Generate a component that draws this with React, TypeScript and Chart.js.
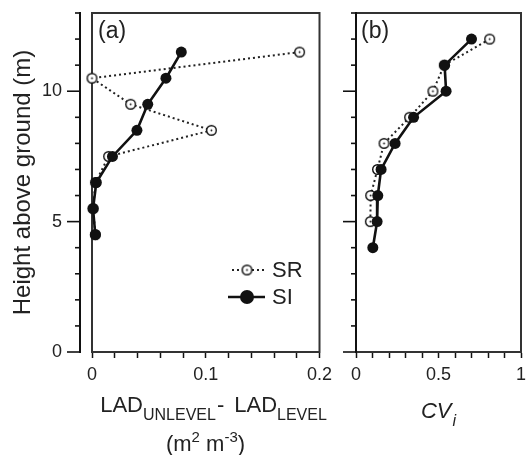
import React, { useEffect, useRef } from "react";
import { Chart, registerables } from "chart.js";
Chart.register(...registerables);

const FONT = '"Liberation Sans", Arial, Helvetica, sans-serif';

// Panel (a): LAD_UNLEVEL - LAD_LEVEL vs height
const heightsA = [11.5, 10.5, 9.5, 8.5, 7.5, 6.5, 5.5, 4.5];
const srLadDiff = [0.1825, 0.0, 0.034, 0.105, 0.0146, 0.003, 0.001, 0.003];
const siLadDiff = [0.0785, 0.065, 0.049, 0.0395, 0.018, 0.0038, 0.0009, 0.0029];

// Panel (b): CV_i vs height
const heightsB_SI = [12, 11, 10, 9, 8, 7, 6, 5, 4];
const siCv = [0.7, 0.537, 0.546, 0.349, 0.237, 0.152, 0.132, 0.128, 0.102];
const heightsB_SR = [12, 11, 10, 9, 8, 7, 6, 5];
const srCv = [0.81, 0.535, 0.466, 0.325, 0.17, 0.13, 0.089, 0.087];

// Axis ticks
const yMin = 0, yMax = 13, yStep = 1, yLabelEvery = 5;
const xA = { min: 0, max: 0.2, step: 0.02, labels: [0, 0.1, 0.2] };
const xB = { min: 0, max: 1, step: 0.1, labels: [0, 0.5, 1] };

const legendNames = ["SR", "SI"];

type Run = { t: string; size: number; dy?: number; italic?: boolean; gap?: number };

function drawRuns(ctx: CanvasRenderingContext2D, runs: Run[], cx: number, baseline: number) {
  ctx.save();
  ctx.fillStyle = "#222";
  ctx.textBaseline = "alphabetic";
  ctx.textAlign = "left";
  const fontOf = (r: Run) => `${r.italic ? "italic " : ""}${r.size}px ${FONT}`;
  let total = 0;
  const widths = runs.map((r) => {
    ctx.font = fontOf(r);
    const w = ctx.measureText(r.t).width + (r.gap || 0);
    total += w;
    return w;
  });
  let x = cx - total / 2;
  runs.forEach((r, i) => {
    ctx.font = fontOf(r);
    ctx.fillText(r.t, x, baseline + (r.dy || 0));
    x += widths[i];
  });
  ctx.restore();
}

function makeOpenCircle(): HTMLCanvasElement {
  const c = document.createElement("canvas");
  c.width = 13;
  c.height = 13;
  const g = c.getContext("2d")!;
  g.beginPath();
  g.arc(6.5, 6.5, 4.8, 0, Math.PI * 2);
  g.fillStyle = "#fff";
  g.fill();
  g.lineWidth = 1.4;
  g.strokeStyle = "#111";
  g.stroke();
  g.beginPath();
  g.arc(6.5, 6.5, 0.9, 0, Math.PI * 2);
  g.fillStyle = "#111";
  g.fill();
  return c;
}

function decorPlugin(cfg: {
  axisOffset: number;
  label: string;
  labelDx: number;
  legend: boolean;
  openCircle: HTMLCanvasElement;
  titles: (ctx: CanvasRenderingContext2D, a: any) => void;
}) {
  return {
    id: "decor",
    beforeDatasetsDraw(chart: any) {
      const { ctx, chartArea: a } = chart;
      ctx.save();
      ctx.strokeStyle = "#333";
      ctx.lineWidth = 2;
      ctx.strokeRect(a.left, a.top, a.right - a.left, a.bottom - a.top);
      ctx.restore();
    },
    afterDraw(chart: any) {
      const { ctx, chartArea: a, scales } = chart;
      const y = scales.y;
      const ax = a.left - cfg.axisOffset;
      ctx.save();
      ctx.strokeStyle = "#111";
      ctx.lineWidth = 2;
      ctx.beginPath();
      ctx.moveTo(ax, y.getPixelForValue(y.max) - 1);
      ctx.lineTo(ax, y.getPixelForValue(y.min) + 1);
      ctx.stroke();
      ctx.lineWidth = 1.6;
      y.ticks.forEach((t: any) => {
        const py = y.getPixelForValue(t.value);
        const len = Math.abs(t.value % yLabelEvery) < 1e-9 ? 13 : 5;
        ctx.beginPath();
        ctx.moveTo(ax, py);
        ctx.lineTo(ax - len, py);
        ctx.stroke();
      });
      // panel label
      ctx.fillStyle = "#222";
      ctx.font = `23px ${FONT}`;
      ctx.textBaseline = "middle";
      ctx.textAlign = "left";
      ctx.fillText(cfg.label, a.left + cfg.labelDx, a.top + 19);
      // legend
      if (cfg.legend) {
        const ds = chart.data.datasets;
        const cx = a.left + 155;
        const rows = [a.top + 257, a.top + 284];
        // SR row
        ctx.save();
        ctx.strokeStyle = ds[1].borderColor;
        ctx.lineWidth = ds[1].borderWidth;
        ctx.setLineDash(ds[1].borderDash);
        ctx.beginPath();
        ctx.moveTo(cx - 15, rows[0]);
        ctx.lineTo(cx + 17, rows[0]);
        ctx.stroke();
        ctx.restore();
        ctx.drawImage(cfg.openCircle, cx - 6.5, rows[0] - 6.5);
        // SI row
        ctx.strokeStyle = ds[0].borderColor;
        ctx.lineWidth = ds[0].borderWidth;
        ctx.beginPath();
        ctx.moveTo(cx - 19, rows[1]);
        ctx.lineTo(cx + 18, rows[1]);
        ctx.stroke();
        ctx.beginPath();
        ctx.arc(cx, rows[1], 7, 0, Math.PI * 2);
        ctx.fillStyle = ds[0].pointBackgroundColor;
        ctx.fill();
        ctx.fillStyle = "#222";
        ctx.font = `22px ${FONT}`;
        ctx.textBaseline = "middle";
        ctx.fillText(legendNames[0], cx + 25, rows[0] + 1);
        ctx.fillText(legendNames[1], cx + 25, rows[1] + 1);
      }
      ctx.restore();
      cfg.titles(ctx, a);
    },
  };
}

function xScale(r: { min: number; max: number; step: number; labels: number[] }) {
  return {
    type: "linear",
    min: r.min,
    max: r.max,
    afterFit: (s: any) => {
      s.height = 103;
      s.paddingLeft = 0;
      s.paddingRight = 0;
    },
    grid: { drawOnChartArea: false, drawTicks: true, tickLength: 6, tickWidth: 1.5, tickColor: "#111" },
    border: { display: true, color: "#111", width: 2 },
    ticks: {
      stepSize: r.step,
      autoSkip: false,
      maxRotation: 0,
      padding: 6,
      color: "#222",
      font: { family: FONT, size: 18 },
      callback: (v: any) => {
        const n = Number(v);
        return r.labels.some((l) => Math.abs(l - n) < 1e-9) ? String(+n.toFixed(2)) : "";
      },
    },
  };
}

function yScale(width: number, showLabels: boolean, title: boolean) {
  return {
    type: "linear",
    min: yMin,
    max: yMax,
    afterFit: (s: any) => {
      s.width = width;
      s.paddingTop = 0;
      s.paddingBottom = 0;
    },
    grid: { display: false, drawTicks: false, tickLength: 0 },
    border: { display: false },
    ticks: {
      stepSize: yStep,
      autoSkip: false,
      display: showLabels,
      padding: 30,
      color: "#222",
      font: { family: FONT, size: 18 },
      callback: (v: any) => (Math.abs(Number(v) % yLabelEvery) < 1e-9 ? String(v) : ""),
    },
    title: {
      display: title,
      text: "Height above ground (m)",
      color: "#222",
      font: { family: FONT, size: 24 },
      padding: { top: 8.5, bottom: 0 },
    },
  };
}

function datasets(srX: number[], srY: number[], siX: number[], siY: number[], oc: HTMLCanvasElement) {
  return [
    {
      label: legendNames[1],
      data: siX.map((x, i) => ({ x, y: siY[i] })),
      borderColor: "#111",
      borderWidth: 2.6,
      pointRadius: 5.5,
      pointBackgroundColor: "#111",
      pointBorderWidth: 0,
      tension: 0,
      clip: false,
      order: 0,
    },
    {
      label: legendNames[0],
      data: srX.map((x, i) => ({ x, y: srY[i] })),
      borderColor: "#222",
      borderWidth: 2,
      borderDash: [2, 3],
      pointStyle: oc,
      pointRadius: 5,
      tension: 0,
      clip: false,
      order: 1,
    },
  ];
}

export default function App() {
  const refA = useRef<HTMLCanvasElement>(null);
  const refB = useRef<HTMLCanvasElement>(null);

  useEffect(() => {
    const oc = makeOpenCircle();
    const chartA = new Chart(refA.current!, {
      type: "line",
      data: { datasets: datasets(srLadDiff, heightsA, siLadDiff, heightsA, oc) as any },
      options: {
        responsive: false,
        animation: false,
        layout: { padding: { top: 13, right: 20.5, left: 0, bottom: 0 } },
        plugins: { legend: { display: false }, tooltip: { enabled: false } },
        scales: { x: xScale(xA) as any, y: yScale(92, true, true) as any },
      },
      plugins: [
        decorPlugin({
          axisOffset: 12,
          label: "(a)",
          labelDx: 6,
          legend: true,
          openCircle: oc,
          titles: (ctx, a) => {
            const cx = a.left + 121.5;
            drawRuns(
              ctx,
              [
                { t: "LAD", size: 22 },
                { t: "UNLEVEL", size: 16, dy: 8.5, gap: 1 },
                { t: "-", size: 22, gap: 10 },
                { t: "LAD", size: 22 },
                { t: "LEVEL", size: 16, dy: 8.5 },
              ],
              cx,
              411.5
            );
            drawRuns(
              ctx,
              [
                { t: "(m", size: 22 },
                { t: "2", size: 15, dy: -9 },
                { t: " m", size: 22 },
                { t: "-3", size: 15, dy: -9 },
                { t: ")", size: 22 },
              ],
              a.left + 113.5,
              451
            );
          },
        }) as any,
      ],
    });
    const chartB = new Chart(refB.current!, {
      type: "line",
      data: { datasets: datasets(srCv, heightsB_SR, siCv, heightsB_SI, oc) as any },
      options: {
        responsive: false,
        animation: false,
        layout: { padding: { top: 13, right: 3, left: 0, bottom: 0 } },
        plugins: { legend: { display: false }, tooltip: { enabled: false } },
        scales: { x: xScale(xB) as any, y: yScale(16, false, false) as any },
      },
      plugins: [
        decorPlugin({
          axisOffset: 0,
          label: "(b)",
          labelDx: 5,
          legend: false,
          openCircle: oc,
          titles: (ctx, a) => {
            drawRuns(
              ctx,
              [
                { t: "CV", size: 22, italic: true, gap: 1 },
                { t: "i", size: 16, italic: true, dy: 8 },
              ],
              (a.left + a.right) / 2,
              418
            );
          },
        }) as any,
      ],
    });
    return () => {
      chartA.destroy();
      chartB.destroy();
    };
  }, []);

  return (
    <div style={{ position: "absolute", left: 0, top: 0, width: 528, height: 455, background: "#fff", overflow: "hidden" }}>
      <canvas ref={refA} width={340} height={455} style={{ position: "absolute", left: 0, top: 0, width: 340, height: 455 }} />
      <canvas ref={refB} width={188} height={455} style={{ position: "absolute", left: 340, top: 0, width: 188, height: 455 }} />
    </div>
  );
}
